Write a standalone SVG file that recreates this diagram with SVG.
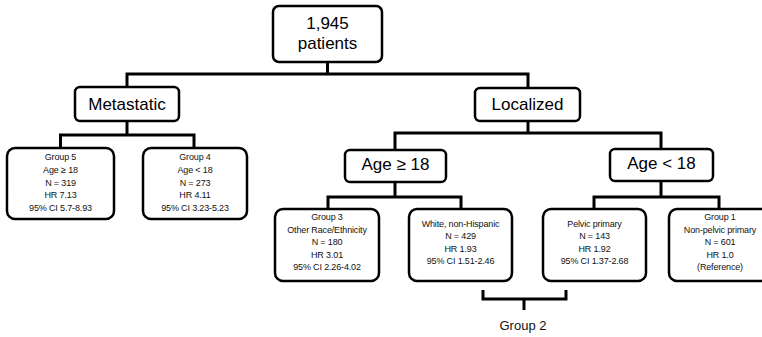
<svg xmlns="http://www.w3.org/2000/svg" width="762" height="337" viewBox="0 0 762 337">
<style>
  .box { fill: #fff; stroke: #000; stroke-width: 2.5; }
  .conn { fill: none; stroke: #000; stroke-width: 3; stroke-linejoin: miter; }
  .big { font-family: "Liberation Sans", Arial, sans-serif; font-size: 17px; text-anchor: middle; fill: #000; }
  .sm { font-family: "Liberation Sans", Arial, sans-serif; font-size: 9px; letter-spacing: -0.15px; text-anchor: middle; fill: #111; }
  .lbl { font-family: "Liberation Sans", Arial, sans-serif; font-size: 13px; text-anchor: middle; fill: #111; }
</style>
<rect width="762" height="337" fill="#fff"/>
<g id="connectors">
  <path class="conn" d="M327.5,62 V74"/>
  <path class="conn" d="M127,87 V74 H528 V88"/>
  <path class="conn" d="M127,121 V135"/>
  <path class="conn" d="M60.5,148 V135 H194 V148"/>
  <path class="conn" d="M528,121 V133"/>
  <path class="conn" d="M395,150 V133 H661 V149"/>
  <path class="conn" d="M395,182 V197"/>
  <path class="conn" d="M328,209 V197 H461 V209"/>
  <path class="conn" d="M661,181 V197"/>
  <path class="conn" d="M594,209 V197 H719 V209"/>
</g>
<g id="root">
  <rect class="box" x="273" y="6" width="109" height="56" rx="6"/>
  <text class="big" x="327.5" y="29">1,945</text>
  <text class="big" x="327.5" y="49">patients</text>
</g>
<g id="metastatic">
  <rect class="box" x="75" y="87" width="104" height="34" rx="5"/>
  <text class="big" x="127" y="110">Metastatic</text>
</g>
<g id="localized">
  <rect class="box" x="475" y="88" width="105" height="33" rx="5"/>
  <text class="big" x="527.5" y="110">Localized</text>
</g>
<g id="group5">
  <rect class="box" x="7" y="148" width="107" height="71" rx="8"/>
  <text class="sm" x="60.5" y="160">Group 5</text>
  <text class="sm" x="60.5" y="173">Age ≥ 18</text>
  <text class="sm" x="60.5" y="186">N = 319</text>
  <text class="sm" x="60.5" y="198">HR 7.13</text>
  <text class="sm" x="60.5" y="211">95% CI 5.7-8.93</text>
</g>
<g id="group4">
  <rect class="box" x="143" y="148" width="104" height="71" rx="8"/>
  <text class="sm" x="195" y="160">Group 4</text>
  <text class="sm" x="195" y="173">Age &lt; 18</text>
  <text class="sm" x="195" y="186">N = 273</text>
  <text class="sm" x="195" y="198">HR 4.11</text>
  <text class="sm" x="195" y="211">95% CI 3.23-5.23</text>
</g>
<g id="age-ge-18">
  <rect class="box" x="345" y="150" width="101" height="32" rx="5"/>
  <text class="big" x="395.5" y="170">Age ≥ 18</text>
</g>
<g id="age-lt-18">
  <rect class="box" x="610" y="149" width="103" height="32" rx="5"/>
  <text class="big" x="661.5" y="169">Age &lt; 18</text>
</g>
<g id="group3">
  <rect class="box" x="275" y="209" width="104" height="72" rx="8"/>
  <text class="sm" x="327" y="220">Group 3</text>
  <text class="sm" x="327" y="233">Other Race/Ethnicity</text>
  <text class="sm" x="327" y="245">N = 180</text>
  <text class="sm" x="327" y="258">HR 3.01</text>
  <text class="sm" x="327" y="270">95% CI 2.26-4.02</text>
</g>
<g id="white">
  <rect class="box" x="409" y="209" width="103" height="72" rx="8"/>
  <text class="sm" x="460.5" y="227">White, non-Hispanic</text>
  <text class="sm" x="460.5" y="239">N = 429</text>
  <text class="sm" x="460.5" y="252">HR 1.93</text>
  <text class="sm" x="460.5" y="264">95% CI 1.51-2.46</text>
</g>
<g id="pelvic">
  <rect class="box" x="543" y="209" width="103" height="72" rx="8"/>
  <text class="sm" x="594.5" y="227">Pelvic primary</text>
  <text class="sm" x="594.5" y="239">N = 143</text>
  <text class="sm" x="594.5" y="252">HR 1.92</text>
  <text class="sm" x="594.5" y="264">95% CI 1.37-2.68</text>
</g>
<g id="group1">
  <rect class="box" x="669" y="209" width="104" height="72" rx="8"/>
  <text class="sm" x="720" y="220">Group 1</text>
  <text class="sm" x="720" y="233">Non-pelvic primary</text>
  <text class="sm" x="720" y="245">N = 601</text>
  <text class="sm" x="720" y="258">HR 1.0</text>
  <text class="sm" x="720" y="270">(Reference)</text>
</g>
<g id="group2">
  <path class="conn" d="M483,290 V299 H566 V290" stroke-width="2.5"/>
  <path class="conn" d="M524,299 V310" stroke-width="2.5"/>
  <text class="lbl" x="523" y="330">Group 2</text>
</g>
</svg>
